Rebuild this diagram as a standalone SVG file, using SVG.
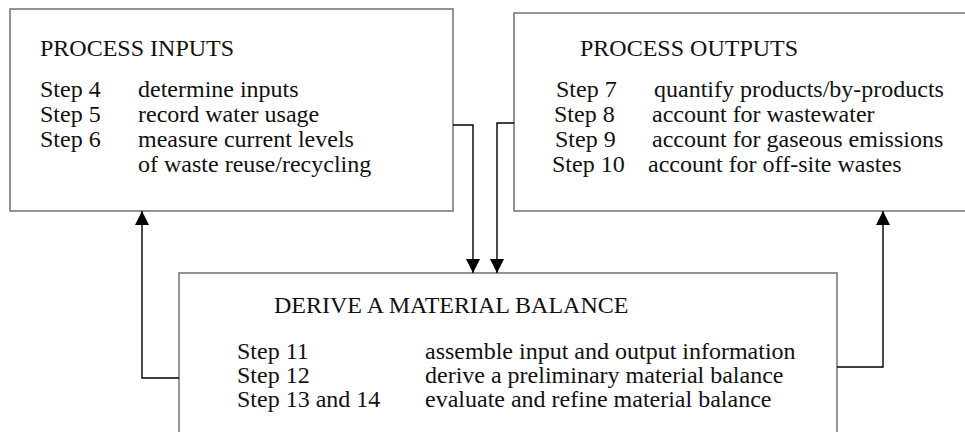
<svg xmlns="http://www.w3.org/2000/svg" width="965" height="432" viewBox="0 0 965 432">
  <style>
    .box { fill: #ffffff; stroke: #7a7a7a; stroke-width: 1.6; }
    .t { font-size: 24px; fill: #111111; }
    .wire { fill: none; stroke: #000000; stroke-width: 1.4; }
  </style>
  <defs>
    <marker id="arrow" markerUnits="userSpaceOnUse" markerWidth="16" markerHeight="16" viewBox="0 0 16 16" refX="14" refY="8" orient="auto">
      <path d="M0,1 L14,8 L0,15 Z" fill="#000000"/>
    </marker>
  </defs>

  <rect width="965" height="432" fill="#ffffff"/>

  <g font-family="'Liberation Serif', 'Times New Roman', 'DejaVu Serif', serif">
  <g id="process-inputs">
    <rect class="box" x="10" y="9" width="443" height="202"/>
    <text class="t" x="40" y="56">PROCESS INPUTS</text>
    <text class="t" x="40" y="97">Step 4</text>
    <text class="t" x="138" y="97">determine inputs</text>
    <text class="t" x="40" y="122">Step 5</text>
    <text class="t" x="138" y="122">record water usage</text>
    <text class="t" x="40" y="147">Step 6</text>
    <text class="t" x="138" y="147">measure current levels</text>
    <text class="t" x="138" y="172">of waste reuse/recycling</text>
  </g>

  <g id="process-outputs">
    <rect class="box" x="514" y="13" width="460" height="198"/>
    <text class="t" x="580" y="56">PROCESS OUTPUTS</text>
    <text class="t" x="556" y="97">Step 7</text>
    <text class="t" x="654" y="97">quantify products/by-products</text>
    <text class="t" x="554" y="122">Step 8</text>
    <text class="t" x="652" y="122">account for wastewater</text>
    <text class="t" x="555" y="147">Step 9</text>
    <text class="t" x="652" y="147">account for gaseous emissions</text>
    <text class="t" x="552" y="172">Step 10</text>
    <text class="t" x="648" y="172">account for off-site wastes</text>
  </g>

  <g id="material-balance">
    <rect class="box" x="179" y="273" width="658" height="170"/>
    <text class="t" x="274" y="313">DERIVE A MATERIAL BALANCE</text>
    <text class="t" x="237" y="359">Step 11</text>
    <text class="t" x="425" y="359">assemble input and output information</text>
    <text class="t" x="237" y="383">Step 12</text>
    <text class="t" x="425" y="383">derive a preliminary material balance</text>
    <text class="t" x="237" y="407">Step 13 and 14</text>
    <text class="t" x="425" y="407">evaluate and refine material balance</text>
  </g>
  </g>

  <g id="connectors">
    <path class="wire" d="M453,125 H473 V273" marker-end="url(#arrow)"/>
    <path class="wire" d="M514,123 H497 V273" marker-end="url(#arrow)"/>
    <path class="wire" d="M179,378 H142 V211" marker-end="url(#arrow)"/>
    <path class="wire" d="M837,367 H883 V211" marker-end="url(#arrow)"/>
  </g>
</svg>
